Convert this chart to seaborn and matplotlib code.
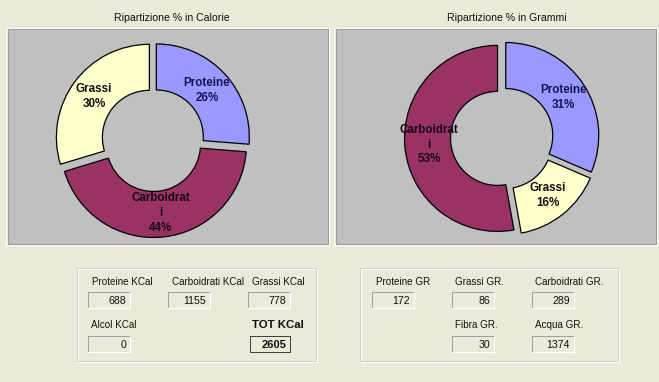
import matplotlib
matplotlib.use("Agg")
import matplotlib.pyplot as plt
import matplotlib.patches as mpatches
import seaborn as sns

W, H = 659, 382
BG = "#ECE9D8"
PANEL = "#C0C0C0"
PX = 0.72  # one pixel in points at dpi 100

# --- data -------------------------------------------------------------
KCAL_NAMES = ["Proteine", "Carboidrati", "Grassi"]
KCAL_VALUES = [688, 1155, 778]
GRAM_NAMES = ["Proteine", "Grassi", "Carboidrati"]
GRAM_VALUES = [172, 86, 289]
ALCOL_KCAL = 0
TOT_KCAL = 2605
FIBRA_GR = 30
ACQUA_GR = 1374

COLORS = {"Proteine": "#9999FF", "Carboidrati": "#993366", "Grassi": "#FFFFCC"}
LABEL_COLORS = {"Proteine": "#14145a", "Carboidrati": "#1a0a12", "Grassi": "#111111"}

R_OUT, R_IN, EXPLODE = 93, 47, 4.5

sns.set_theme(style="white")
plt.rcParams["font.family"] = ["Liberation Sans", "DejaVu Sans"]


def px_axes(fig, x0, y0, x1, y1):
    return fig.add_axes([x0 / W, 1 - y1 / H, (x1 - x0) / W, (y1 - y0) / H])


def wrap(name, n=10):
    return name if len(name) <= n else name[:n] + "\n" + name[n:]


def draw_donut(fig, over, box, center, names, values, title, title_x):
    x0, y0, x1, y1 = box
    # white etched frame around the gray panel
    over.add_patch(mpatches.Rectangle((x0 - 2, y0 - 1), x1 - x0 + 3, y1 - y0 + 2,
                                      fill=False, edgecolor="white", lw=PX))
    over.text(title_x, 18, title, ha="center", va="center", fontsize=7.6, color="#111111")

    ax = px_axes(fig, *box)
    total = sum(values)
    labels = [f"{wrap(n)}\n{round(100 * v / total)}%" for n, v in zip(names, values)]
    wedges, texts = ax.pie(
        values, labels=labels, colors=[COLORS[n] for n in names],
        startangle=90, counterclock=False, radius=R_OUT,
        center=(center[0], H - center[1]), explode=[EXPLODE] * len(values),
        labeldistance=0.74,
        wedgeprops=dict(width=R_OUT - R_IN, edgecolor="black", linewidth=0.9),
        textprops=dict(fontsize=8.4, fontweight="bold"),
    )
    for t, n in zip(texts, names):
        t.set_ha("center")
        t.set_va("center")
        t.set_multialignment("center")
        t.set_linespacing(1.3)
        t.set_color(LABEL_COLORS[n])
    ax.set_xlim(x0, x1)
    ax.set_ylim(H - y1, H - y0)
    ax.set_frame_on(True)
    ax.set_facecolor(PANEL)
    ax.set_xticks([])
    ax.set_yticks([])
    for s in ax.spines.values():
        s.set_edgecolor("#9a9a9a")
        s.set_linewidth(PX)


def group_box(over, x0, y0, x1, y1):
    over.add_patch(mpatches.Rectangle((x0 + 1, y0 + 1), x1 - x0, y1 - y0,
                                      fill=False, edgecolor="white", lw=PX))
    over.add_patch(mpatches.Rectangle((x0, y0), x1 - x0, y1 - y0,
                                      fill=False, edgecolor="#D0D0BF", lw=PX))


def field(over, label, value, lx, ly, bx, by, bold=False):
    over.text(lx, ly, label, ha="left", va="center", fontsize=7.1 if not bold else 8.2,
              fontweight="bold" if bold else "normal", color="#111111")
    bw, bh = 42, 16
    if bold:
        bw = 40
    over.add_patch(mpatches.Rectangle((bx, by), bw, bh, facecolor=BG, edgecolor="none"))
    dark = "#404040" if bold else "#A0A0A0"
    over.plot([bx, bx + bw], [by, by], color=dark, lw=PX)
    over.plot([bx, bx], [by, by + bh], color=dark, lw=PX)
    light = "#404040" if bold else "white"
    over.plot([bx, bx + bw], [by + bh, by + bh], color=light, lw=PX)
    over.plot([bx + bw, bx + bw], [by, by + bh], color=light, lw=PX)
    over.text(bx + bw - 4, by + bh / 2 + 0.5, str(value), ha="right", va="center",
              fontsize=7.6 if not bold else 8.0,
              fontweight="bold" if bold else "normal", color="#111111")


fig = plt.figure(figsize=(W / 100, H / 100), dpi=100, facecolor=BG)
over = fig.add_axes([0, 0, 1, 1])
over.set_xlim(0, W)
over.set_ylim(H, 0)
over.axis("off")

draw_donut(fig, over, (8, 29, 328, 244), (153, 140), KCAL_NAMES, KCAL_VALUES,
           "Ripartizione % in Calorie", 172)
draw_donut(fig, over, (336, 29, 656, 244), (502, 138), GRAM_NAMES, GRAM_VALUES,
           "Ripartizione % in Grammi", 507)

# calorie fields
group_box(over, 77, 268, 316, 361)
kcal_lookup = dict(zip(KCAL_NAMES, KCAL_VALUES))
field(over, "Proteine KCal", kcal_lookup["Proteine"], 92, 282, 88, 292)
field(over, "Carboidrati KCal", kcal_lookup["Carboidrati"], 172, 282, 168, 292)
field(over, "Grassi KCal", kcal_lookup["Grassi"], 252, 282, 248, 292)
field(over, "Alcol KCal", ALCOL_KCAL, 91, 325, 88, 336)
field(over, "TOT KCal", TOT_KCAL, 252, 325, 250, 336, bold=True)

# gram fields
group_box(over, 360, 268, 618, 361)
gram_lookup = dict(zip(GRAM_NAMES, GRAM_VALUES))
field(over, "Proteine GR", gram_lookup["Proteine"], 376, 282, 372, 292)
field(over, "Grassi GR.", gram_lookup["Grassi"], 455, 282, 452, 292)
field(over, "Carboidrati GR.", gram_lookup["Carboidrati"], 535, 282, 532, 292)
field(over, "Fibra GR.", FIBRA_GR, 455, 325, 452, 336)
field(over, "Acqua GR.", ACQUA_GR, 535, 325, 532, 336)

fig.savefig("out.png", dpi=100, facecolor=BG)
